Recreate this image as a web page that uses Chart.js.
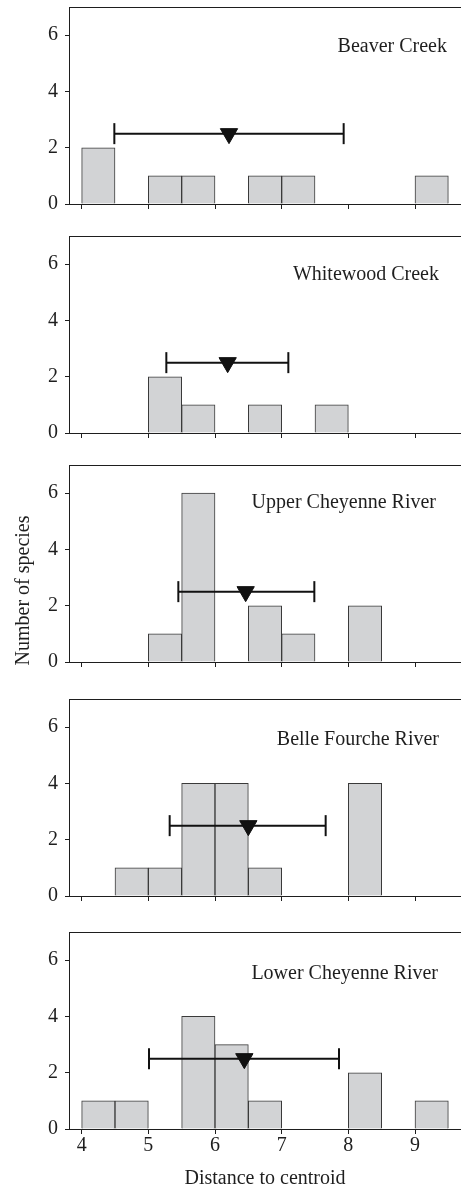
<!DOCTYPE html>
<html><head><meta charset="utf-8">
<script src="https://cdn.jsdelivr.net/npm/chart.js@4.4.1/dist/chart.umd.min.js"></script>
<style>
html,body{margin:0;padding:0;background:#fff;}
body{width:461px;height:1192px;position:relative;overflow:hidden;}
canvas{position:absolute;left:0;}
</style></head><body>
<canvas id="c0"></canvas><canvas id="c1"></canvas><canvas id="c2"></canvas><canvas id="c3"></canvas><canvas id="c4"></canvas>
<script>
// ---- data ----
const binStarts = [4, 4.5, 5, 5.5, 6, 6.5, 7, 7.5, 8, 8.5, 9];
const binWidth = 0.5;
const siteNames = ['Beaver Creek', 'Whitewood Creek', 'Upper Cheyenne River', 'Belle Fourche River', 'Lower Cheyenne River'];
const beaverCreek    = [2, 0, 1, 1, 0, 1, 1, 0, 0, 0, 1];
const whitewoodCreek = [0, 0, 2, 1, 0, 1, 0, 1, 0, 0, 0];
const upperCheyenne  = [0, 0, 1, 6, 0, 2, 1, 0, 2, 0, 0];
const belleFourche   = [0, 1, 1, 4, 4, 1, 0, 0, 4, 0, 0];
const lowerCheyenne  = [1, 1, 0, 4, 3, 1, 0, 0, 2, 0, 1];
const meanDistance = [6.21, 6.19, 6.46, 6.50, 6.44];
const rangeLow     = [4.49, 5.27, 5.45, 5.32, 5.01];
const rangeHigh    = [7.93, 7.10, 7.49, 7.66, 7.86];
const markerLevel  = [2.5, 2.5, 2.5, 2.5, 2.5];
const xTicks = [4, 5, 6, 7, 8, 9];
const yTicks = [0, 2, 4, 6];
const xTitle = 'Distance to centroid';
const yTitle = 'Number of species';

const counts = [beaverCreek, whitewoodCreek, upperCheyenne, belleFourche, lowerCheyenne];

// ---- layout / style ----
const W = 461;
const panelTop = [7, 236, 465, 699, 932];
const plotH = 197;
const padTop = 5;
const yAxisW = 69;
const X_MIN = 3.81, X_MAX = 9.69, Y_MIN = 0, Y_MAX = 7;
const labelRight = [14, 22, 25, 22, 23];
const labelBase = [45, 44, 42.5, 45.5, 47];
const FONT = '"Liberation Serif", "Times New Roman", serif';
const INK = '#1e1e1e';

const sitePlugin = {
  id: 'siteLabel',
  afterDatasetsDraw(chart, args, o) {
    const {ctx, chartArea} = chart;
    ctx.save();
    ctx.font = '20px ' + FONT;
    ctx.fillStyle = INK;
    ctx.textAlign = 'right';
    ctx.textBaseline = 'alphabetic';
    ctx.fillText(o.text, chartArea.right - o.right, chartArea.top + o.base);
    if (o.yTitle) {
      ctx.translate(o.yTitleX, o.yTitleY);
      ctx.rotate(-Math.PI / 2);
      ctx.textAlign = 'center';
      ctx.fillText(o.yTitle, 0, 0);
    }
    ctx.restore();
  }
};

function makePanel(i) {
  const last = i === 4;
  const xH = last ? 63 : 10;
  const H = padTop + plotH + xH;
  const cv = document.getElementById('c' + i);
  const top = panelTop[i] - padTop;
  cv.width = W; cv.height = H;
  cv.style.top = top + 'px';
  cv.style.width = W + 'px'; cv.style.height = H + 'px';

  const bars = binStarts.map((s, k) => ({x: s + binWidth / 2, y: counts[i][k] === 0 ? null : counts[i][k]}));

  new Chart(cv, {
    type: 'bar',
    data: {
      datasets: [
        {
          type: 'line', order: 0,
          data: [{x: meanDistance[i], y: markerLevel[i]}],
          showLine: false,
          pointStyle: 'triangle', pointRotation: 180, pointRadius: 10,
          pointBackgroundColor: '#111', pointBorderColor: '#111', pointBorderWidth: 1
        },
        {
          type: 'line', order: 1,
          data: [{x: rangeLow[i], y: markerLevel[i]}, {x: rangeHigh[i], y: markerLevel[i]}],
          borderColor: '#111', borderWidth: 2, fill: false, tension: 0,
          pointStyle: 'line', pointRotation: 90, pointRadius: 10.5,
          pointBorderWidth: 2, pointBorderColor: '#111', pointBackgroundColor: '#111'
        },
        {
          type: 'bar', order: 2,
          data: bars,
          backgroundColor: '#d2d3d5', borderColor: '#3a3a3a', borderWidth: 1,
          borderSkipped: 'start', barPercentage: 1, categoryPercentage: 1
        }
      ]
    },
    options: {
      responsive: false, animation: false, devicePixelRatio: 1,
      layout: {autoPadding: false, padding: {top: padTop, left: 0, right: 0, bottom: 0}},
      plugins: {
        legend: {display: false}, tooltip: {enabled: false}, title: {display: false},
        siteLabel: {
          text: siteNames[i], right: labelRight[i], base: labelBase[i],
          yTitle: i === 2 ? yTitle : null, yTitleX: 29, yTitleY: 590.5 - top
        }
      },
      scales: {
        x: {
          type: 'linear', position: 'bottom', min: X_MIN, max: X_MAX, offset: false,
          grid: {display: true, offset: false, drawOnChartArea: false, drawTicks: true, tickLength: 5, color: INK, lineWidth: 1},
          border: {display: true, color: INK, width: 1},
          ticks: {display: last, color: INK, font: {family: FONT, size: 20}, padding: 0, maxRotation: 0, autoSkip: false},
          title: {display: last, text: xTitle, color: INK, font: {family: FONT, size: 20}, padding: {top: 0, bottom: 1}},
          afterBuildTicks: s => { s.ticks = xTicks.map(v => ({value: v})); },
          afterFit: s => { s.height = xH; s.paddingLeft = 0; s.paddingRight = 0; }
        },
        x2: {
          type: 'linear', position: 'top', min: X_MIN, max: X_MAX, offset: false,
          grid: {display: false}, ticks: {display: false},
          border: {display: true, color: INK, width: 1},
          afterFit: s => { s.height = 0; s.paddingLeft = 0; s.paddingRight = 0; }
        },
        y: {
          type: 'linear', position: 'left', min: Y_MIN, max: Y_MAX,
          grid: {display: true, drawOnChartArea: false, drawTicks: true, tickLength: 4, color: INK, lineWidth: 1},
          border: {display: true, color: INK, width: 1},
          ticks: {color: INK, font: {family: FONT, size: 20}, padding: 7},
          afterBuildTicks: s => { s.ticks = yTicks.map(v => ({value: v})); },
          afterFit: s => { s.width = yAxisW; s.paddingTop = 0; s.paddingBottom = 0; }
        }
      }
    },
    plugins: [sitePlugin]
  });
}
for (let i = 0; i < 5; i++) makePanel(i);
</script>
</body></html>
